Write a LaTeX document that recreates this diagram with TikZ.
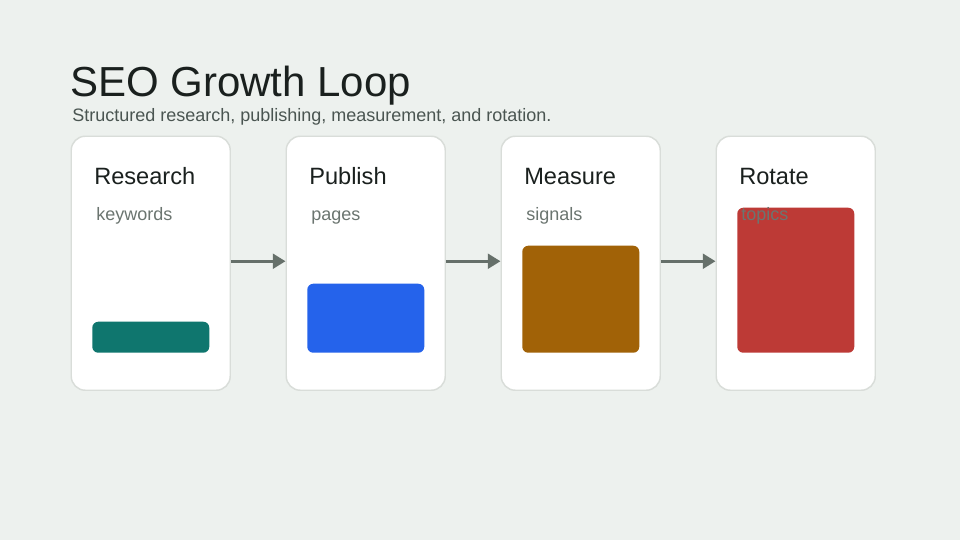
\documentclass[tikz,border=0pt]{standalone}
\usepackage{fontspec}
\setmainfont{Liberation Sans}
\usetikzlibrary{arrows.meta}
\definecolor{bg}{HTML}{EDF1EE}
\definecolor{cardborder}{HTML}{D9DDD9}
\definecolor{titlec}{HTML}{1A201E}
\definecolor{subc}{HTML}{4A5551}
\definecolor{mutedc}{HTML}{6B7570}
\definecolor{arrowc}{HTML}{66706A}
\definecolor{tealc}{HTML}{0F766E}
\definecolor{bluec}{HTML}{2563EB}
\definecolor{orangec}{HTML}{A16207}
\definecolor{redc}{HTML}{BD3A36}
\tikzset{
  card/.style={draw=cardborder, line width=1.1pt, fill=white, rounded corners=10.5pt,
    minimum width=119.25pt, minimum height=190.5pt, inner sep=0pt, anchor=north west},
  bar/.style={rounded corners=4.5pt, minimum width=87.75pt, inner sep=0pt, anchor=south west},
  cardtitle/.style={anchor=base west, inner sep=0pt, text=titlec, font=\fontsize{17.7pt}{20pt}\selectfont},
  cardsub/.style={anchor=base west, inner sep=0pt, text=mutedc, font=\fontsize{13.5pt}{16pt}\selectfont},
  flow/.style={draw=arrowc, line width=2.25pt, -{Triangle[length=9.5pt,width=11pt]}}
}
\begin{document}
\begin{tikzpicture}[x=0.75pt, y=-0.75pt]
\fill[bg] (0,0) rectangle (960,540);
\useasboundingbox (0,0) rectangle (960,540);
\node[anchor=base west, inner sep=0pt, text=titlec, font=\fontsize{31.5pt}{36pt}\selectfont] (title) at (70,96) {SEO Growth Loop};
\node[anchor=base west, inner sep=0pt, text=subc, font=\fontsize{13.5pt}{16pt}\selectfont] (subtitle) at (72,121) {Structured research, publishing, measurement, and rotation.};

\node[card] (c1) at (70.5,135.5) {};
\node[card] (c2) at (285.5,135.5) {};
\node[card] (c3) at (500.5,135.5) {};
\node[card] (c4) at (715.5,135.5) {};

\node[cardtitle] (t1) at (94,184) {Research};
\node[cardsub] (s1) at (96,220.5) {keywords};
\node[bar, fill=tealc, minimum height=23.25pt] (b1) at (92,353) {};

\node[cardtitle] (t2) at (309,184) {Publish};
\node[cardsub] (s2) at (311,220.5) {pages};
\node[bar, fill=bluec, minimum height=51.75pt] (b2) at (307,353) {};

\node[cardtitle] (t3) at (524,184) {Measure};
\node[cardsub] (s3) at (526,220.5) {signals};
\node[bar, fill=orangec, minimum height=80.25pt] (b3) at (522,353) {};

\node[cardtitle] (t4) at (739,184) {Rotate};
\node[bar, fill=redc, minimum height=108.75pt] (b4) at (737,353) {};
\node[cardsub] (s4) at (741,220.5) {topics};

\draw[flow] ([yshift=1.5pt]c1.east) -- ([yshift=1.5pt]c2.west);
\draw[flow] ([yshift=1.5pt]c2.east) -- ([yshift=1.5pt]c3.west);
\draw[flow] ([yshift=1.5pt]c3.east) -- ([yshift=1.5pt]c4.west);
\end{tikzpicture}
\end{document}
